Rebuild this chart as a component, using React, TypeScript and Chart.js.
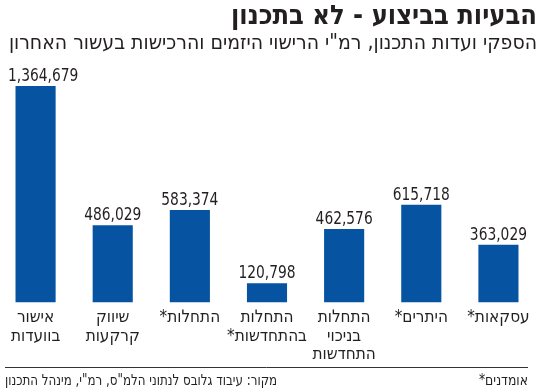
import React, { useEffect, useRef } from "react";
import { Chart, registerables } from "chart.js";

Chart.register(...registerables);

const TITLE = "הבעיות בביצוע - לא בתכנון";
const SUBTITLE = 'הספקי ועדות התכנון, רמ"י הרישוי היזמים והרכישות בעשור האחרון';
const CATEGORIES: (string | string[])[] = [
  ["אישור", "בוועדות"],
  ["שיווק", "קרקעות"],
  "התחלות*",
  ["התחלות", "בהתחדשות*"],
  ["התחלות", "בניכוי", "התחדשות"],
  "היתרים*",
  "עסקאות*",
];
const VALUES = [1364679, 486029, 583374, 120798, 462576, 615718, 363029];
const FOOTNOTE = "*אומדנים";
const SOURCE = 'מקור: עיבוד גלובס לנתוני הלמ"ס, רמ"י, מינהל התכנון';
const Y_MAX = 1530000;

const FONT = '"DejaVu Sans Condensed", "DejaVu Sans", sans-serif';
const TEXT = "#231f20";
const BAR = "#0553a1";

const valueLabels = {
  id: "valueLabels",
  afterDatasetsDraw(chart: any) {
    const ctx = chart.ctx;
    const meta = chart.getDatasetMeta(0);
    const sx = 0.83;
    ctx.save();
    ctx.font = `18.5px ${FONT}`;
    ctx.fillStyle = TEXT;
    ctx.textAlign = "center";
    ctx.textBaseline = "alphabetic";
    meta.data.forEach((el: any, i: number) => {
      const v = chart.data.datasets[0].data[i] as number;
      const s = v.toLocaleString("en-US");
      const w = ctx.measureText(s).width * sx;
      const x = Math.max(el.x, 11 + w / 2);
      ctx.save();
      ctx.translate(x, el.y - 5);
      ctx.scale(sx, 1);
      ctx.fillText(s, 0, 0);
      ctx.restore();
    });
    ctx.restore();
  },
};

const footer = {
  id: "footer",
  afterDraw(chart: any) {
    const ctx = chart.ctx;
    const h = chart.height;
    const w = chart.width;
    const left = 8;
    const right = w - 22;
    ctx.save();
    ctx.strokeStyle = "#333";
    ctx.lineWidth = 1;
    ctx.beginPath();
    ctx.moveTo(left, h - 24.5);
    ctx.lineTo(right, h - 24.5);
    ctx.stroke();
    ctx.font = `15px ${FONT}`;
    ctx.fillStyle = TEXT;
    ctx.textBaseline = "middle";
    ctx.save();
    ctx.translate(left, h - 11);
    ctx.scale(0.88, 1);
    ctx.textAlign = "left";
    ctx.fillText(SOURCE, 0, 0);
    ctx.restore();
    ctx.save();
    ctx.direction = "ltr";
    ctx.translate(right, h - 11);
    ctx.scale(0.92, 1);
    ctx.textAlign = "right";
    ctx.fillText(FOOTNOTE, 0, 0);
    ctx.restore();
    ctx.restore();
  },
};

export default function App() {
  const ref = useRef<HTMLCanvasElement | null>(null);
  useEffect(() => {
    document.body.style.margin = "0";
    const canvas = ref.current;
    if (!canvas) return;
    const chart = new Chart(canvas, {
      type: "bar",
      data: {
        labels: CATEGORIES,
        datasets: [
          {
            data: VALUES,
            backgroundColor: BAR,
            barPercentage: 0.52,
            categoryPercentage: 1,
          },
        ],
      },
      options: {
        animation: false,
        responsive: false,
        layout: { padding: { left: 0, right: 13, top: 0, bottom: 22 } },
        plugins: {
          legend: { display: false },
          tooltip: { enabled: false },
          title: {
            display: true,
            text: TITLE,
            align: "end",
            color: TEXT,
            font: { family: FONT, size: 27, weight: "bold", lineHeight: 1.1 },
            padding: { top: 2, bottom: 0 },
          },
          subtitle: {
            display: true,
            text: SUBTITLE,
            align: "end",
            color: TEXT,
            font: { family: FONT, size: 21, lineHeight: 1.1 },
            padding: { top: 0, bottom: 5 },
          },
        },
        scales: {
          x: {
            grid: { display: false, drawTicks: false },
            border: { display: false },
            ticks: {
              color: TEXT,
              font: { family: FONT, size: 17, lineHeight: 1.09 },
              maxRotation: 0,
              autoSkip: false,
              padding: 6,
            },
          },
          y: {
            display: false,
            min: 0,
            max: Y_MAX,
          },
        },
      },
      plugins: [valueLabels, footer],
    });
    return () => chart.destroy();
  }, []);
  return (
    <canvas
      ref={ref}
      width={553}
      height={392}
      dir="rtl"
      style={{ display: "block", direction: "rtl", marginLeft: -3 }}
    />
  );
}
